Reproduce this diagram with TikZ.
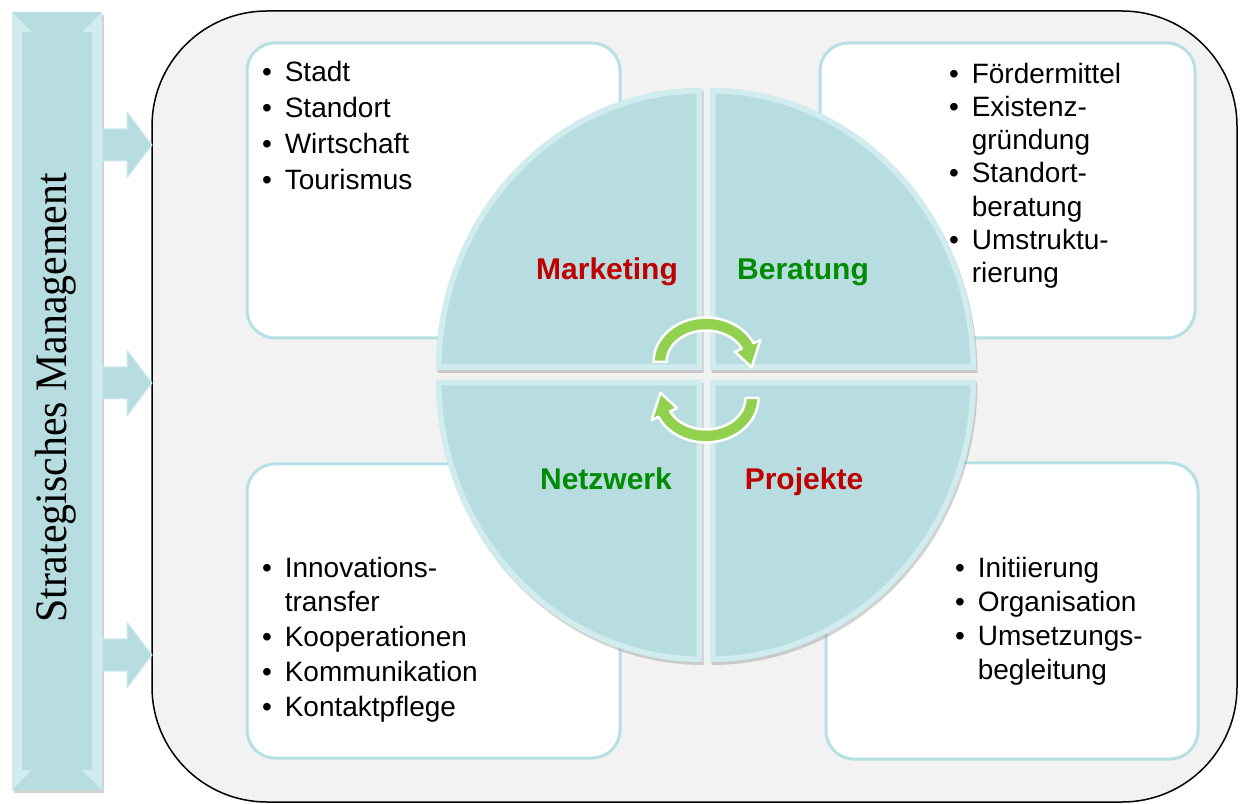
\documentclass[tikz,border=0pt]{standalone}
\usepackage{fontspec}
\setmainfont{Liberation Serif}
\setsansfont{Liberation Sans}
\usepackage{xcolor}
\usepackage{graphicx}
\usepackage{tikz}
\usetikzlibrary{positioning,shadows}

\definecolor{tealmain}{RGB}{183,221,224}
\definecolor{teallight}{RGB}{208,236,238}
\definecolor{boxline}{RGB}{183,224,228}
\definecolor{framefill}{RGB}{242,242,242}
\definecolor{arrowgreen}{RGB}{146,208,80}
\definecolor{labelred}{RGB}{192,0,0}
\definecolor{labelgreen}{RGB}{0,140,0}

\newcommand{\blt}{•}

\begin{document}
\begin{tikzpicture}[
  x=1pt, y=1pt,
  infobox/.style={
    rectangle, draw=boxline, line width=3pt, fill=white,
    rounded corners=28pt, inner sep=0pt, outer sep=0pt, anchor=north west
  },
  itemlist/.style={inner sep=0pt, outer sep=0pt, align=left},
  quadlabel/.style={font=\sffamily\bfseries\fontsize{30}{36}\selectfont, anchor=base, inner sep=0pt},
  quarter/.style={fill=tealmain, drop shadow={shadow xshift=1.5pt, shadow yshift=-3pt, opacity=0.35}},
  bevel/.style={draw=teallight, line width=11pt},
  blockarrow/.style={fill=tealmain, draw=teallight, line width=1pt, line join=miter},
  cyclearrow/.style={fill=arrowgreen, draw=white, line width=2.5pt, line join=round}
]
\useasboundingbox (0,0) rectangle (1241,803);

% Frame
\draw[fill=framefill, line width=1.5pt, rounded corners=115pt] (152,1) rectangle (1237,792);

% Boxes
\node[infobox, minimum width=373pt, minimum height=295pt] (boxTL) at (247,760) {};
\node[infobox, minimum width=375pt, minimum height=295pt] (boxTR) at (820,760) {};
\node[infobox, minimum width=373pt, minimum height=294pt] (boxBL) at (247,339) {};
\node[infobox, minimum width=372pt, minimum height=296pt] (boxBR) at (826,340) {};

% Lists
\node[itemlist, font=\sffamily\fontsize{28}{36}\selectfont,
      below right=13.8pt and 15pt of boxTL.north west] (listTL) {%
  \begin{tabular}[t]{@{}l@{\hspace{13pt}}l@{}}
    \blt & Stadt\\ \blt & Standort\\ \blt & Wirtschaft\\ \blt & Tourismus
  \end{tabular}};
\node[itemlist, font=\sffamily\fontsize{28}{33.3}\selectfont,
      below right=16.7pt and 129pt of boxTR.north west] (listTR) {%
  \begin{tabular}[t]{@{}l@{\hspace{13pt}}l@{}}
    \blt & Fördermittel\\ \blt & Existenz-\\ & gründung\\
    \blt & Standort-\\ & beratung\\ \blt & Umstruktu-\\ & rierung
  \end{tabular}};
\node[itemlist, font=\sffamily\fontsize{28}{34.75}\selectfont,
      below right=88.7pt and 15pt of boxBL.north west] (listBL) {%
  \begin{tabular}[t]{@{}l@{\hspace{13pt}}l@{}}
    \blt & Innovations-\\ & transfer\\ \blt & Kooperationen\\
    \blt & Kommunikation\\ \blt & Kontaktpflege
  \end{tabular}};
\node[itemlist, font=\sffamily\fontsize{28}{34}\selectfont,
      below right=91.2pt and 129pt of boxBR.north west] (listBR) {%
  \begin{tabular}[t]{@{}l@{\hspace{13pt}}l@{}}
    \blt & Initiierung\\ \blt & Organisation\\ \blt & Umsetzungs-\\ & begleitung
  \end{tabular}};

% Quadrants
\foreach \cx/\cy/\sa/\ea in {702/433/180/90, 710/433/90/0, 702/423/180/270, 710/423/270/360}{
  \path[quarter] (\cx,\cy) -- ++(\sa:266 and 282)
    arc[start angle=\sa, end angle=\ea, x radius=266, y radius=282] -- cycle;
  \begin{scope}
    \clip (\cx,\cy) -- ++(\sa:266 and 282)
      arc[start angle=\sa, end angle=\ea, x radius=266, y radius=282] -- cycle;
    \draw[bevel] (\cx,\cy) -- ++(\sa:266 and 282)
      arc[start angle=\sa, end angle=\ea, x radius=266, y radius=282] -- cycle;
  \end{scope}
}

\node[quadlabel, text=labelred]   (mark)  at (607,523) {Marketing};
\node[quadlabel, text=labelgreen] (berat) at (803,523) {Beratung};
\node[quadlabel, text=labelgreen] (netz)  at (606,313) {Netzwerk};
\node[quadlabel, text=labelred]   (proj)  at (804,313) {Projekte};

% Cycle arrows
\begin{scope}[shift={(706,441)}]
  \draw[cyclearrow] (180:52.5 and 44.5)
    arc[start angle=180, end angle=25, x radius=52.5, y radius=44.5]
    -- (25:60 and 52) -- (-8:46 and 38) -- (25:32 and 24)
    -- (25:39.5 and 31.5)
    arc[start angle=25, end angle=180, x radius=39.5, y radius=31.5] -- cycle;
\end{scope}
\begin{scope}[shift={(706,405)}]
  \draw[cyclearrow] (0:52.5 and 44.5)
    arc[start angle=0, end angle=-155, x radius=52.5, y radius=44.5]
    -- (-155:60 and 52) -- (-188:46 and 38) -- (-155:32 and 24)
    -- (-155:39.5 and 31.5)
    arc[start angle=-155, end angle=0, x radius=39.5, y radius=31.5] -- cycle;
\end{scope}

% Left bar
\fill[teallight, drop shadow={shadow xshift=1.5pt, shadow yshift=-3pt, opacity=0.35}] (12,13) rectangle (102,791);
\fill[tealmain] (12,13) -- (32,33) -- (32,771) -- (12,791) -- (102,791) -- (82,771) -- (82,33) -- (102,13) -- cycle;
\fill[tealmain] (22,33) rectangle (92,771);
\node[rotate=90, anchor=base, inner sep=0pt, font=\fontsize{45}{54}\selectfont] (mgmt) at (66,405)
  {\scalebox{0.93}[1]{Strategisches Management}};

% Block arrows
\foreach \ay in {658,420,148}{
  \draw[blockarrow] (102,\ay+16) -- (127,\ay+16) -- (127,\ay+33) -- (152,\ay)
    -- (127,\ay-33) -- (127,\ay-16) -- (102,\ay-16) -- cycle;
}

\end{tikzpicture}
\end{document}
